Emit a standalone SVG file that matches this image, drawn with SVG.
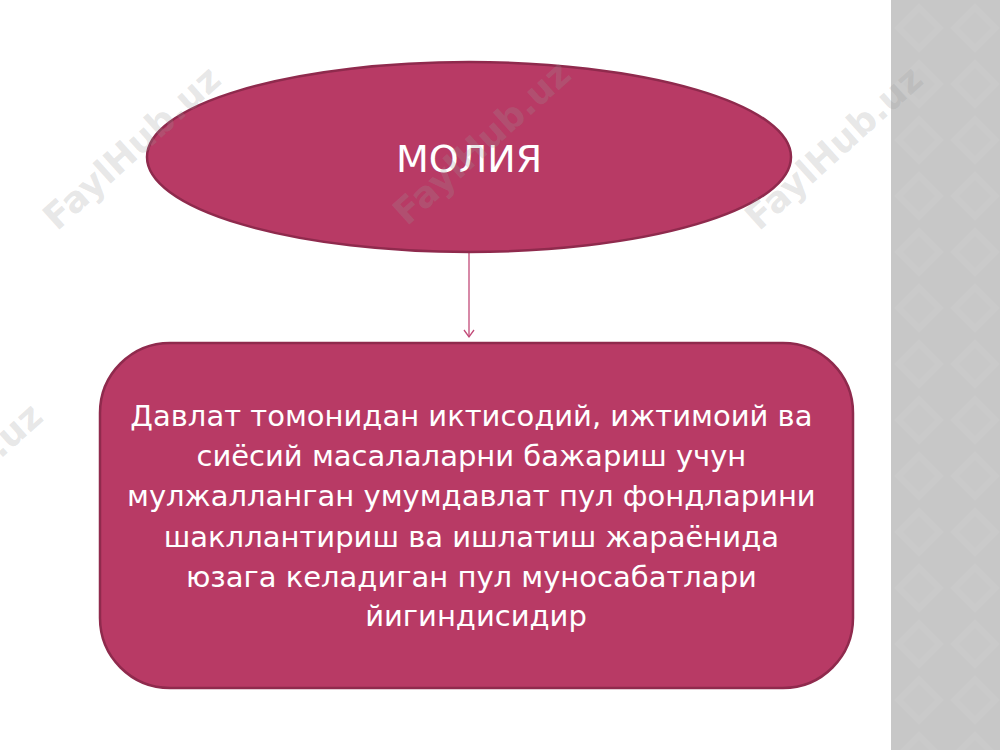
<svg xmlns="http://www.w3.org/2000/svg" width="1000" height="750" viewBox="0 0 1000 750">
  <defs>
    <pattern id="dia" x="891" y="0" width="56" height="56" patternUnits="userSpaceOnUse">
      <rect width="56" height="56" fill="#c7c7c7"/>
      <path d="M28 3 L53 28 L28 53 L3 28 Z" fill="#cacaca"/>
      <path d="M28 12 L44 28 L28 44 L12 28 Z" fill="#c8c8c8"/>
    </pattern>
    <marker id="arr" markerWidth="12" markerHeight="12" refX="10" refY="6" orient="auto" markerUnits="userSpaceOnUse" viewBox="0 0 12 12">
      <path d="M3 1 L10 6 L3 11" fill="none" stroke="#c24a78" stroke-width="1.3"/>
    </marker>
    <style>
      .node { fill: #b83a65; stroke: #8f2a4d; stroke-width: 2.5; }
      .lbl { fill: #ffffff; font-family: "DejaVu Sans", "Open Sans", sans-serif; text-anchor: middle; }
      .wm { fill: #9a9a9a; fill-opacity: 0.24; font-family: "DejaVu Sans", sans-serif; font-weight: bold; font-size: 36px; text-anchor: middle; }
    </style>
  </defs>
  <rect width="1000" height="750" fill="#ffffff"/>
  <rect x="891" y="0" width="109" height="750" fill="url(#dia)"/>

  <g id="connectors">
    <line x1="469" y1="252" x2="469" y2="337" stroke="#c24a78" stroke-width="1.3" marker-end="url(#arr)"/>
  </g>

  <g id="node-moliya">
    <ellipse class="node" cx="469" cy="157" rx="322" ry="95"/>
    <text class="lbl" x="469" y="172" font-size="38" font-family="Open Sans">МОЛИЯ</text>
  </g>

  <g id="node-definition">
    <rect class="node" x="100" y="343" width="753" height="345" rx="70" ry="70"/>
    <text class="lbl" font-size="29">
      <tspan x="476" y="426">Давлат томонидан иктисодий, ижтимоий ва</tspan>
      <tspan x="476" y="466">сиёсий масалаларни бажариш учун</tspan>
      <tspan x="476" y="506">мулжалланган умумдавлат пул фондларини</tspan>
      <tspan x="476" y="547">шакллантириш ва ишлатиш жараёнида</tspan>
      <tspan x="476" y="587">юзага келадиган пул муносабатлари</tspan>
      <tspan x="476" y="626">йигиндисидир</tspan>
    </text>
  </g>

  <g id="watermarks">
    <text class="wm" transform="translate(140 157) rotate(-42)">FaylHub.uz</text>
    <text class="wm" transform="translate(490 152) rotate(-42)">FaylHub.uz</text>
    <text class="wm" transform="translate(842 157) rotate(-42)">FaylHub.uz</text>
    <text class="wm" transform="translate(-38 494) rotate(-42)">FaylHub.uz</text>
  </g>
</svg>
